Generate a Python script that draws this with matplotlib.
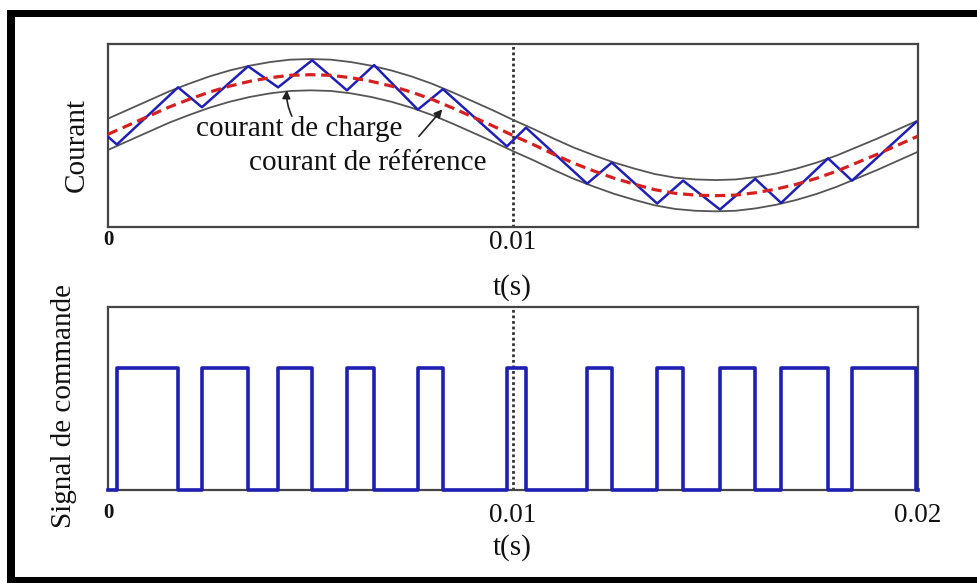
"""
Commande par hysteresis : courant de charge / reference et signal de commande.
"""
import matplotlib; matplotlib.use("Agg"); import matplotlib.pyplot as plt
from matplotlib.patches import Rectangle
import numpy as np

# --- donnees ---
ref_t = [0.0000, 0.0005, 0.0010, 0.0015, 0.0020, 0.0025, 0.0030, 0.0035, 0.0040, 0.0045,
         0.0050, 0.0055, 0.0060, 0.0065, 0.0070, 0.0075, 0.0080, 0.0085, 0.0090, 0.0095,
         0.0100, 0.0105, 0.0110, 0.0115, 0.0120, 0.0125, 0.0130, 0.0135, 0.0140, 0.0145,
         0.0150, 0.0155, 0.0160, 0.0165, 0.0170, 0.0175, 0.0180, 0.0185, 0.0190, 0.0195, 0.0200]
ref_i = [0.02, 0.17, 0.32, 0.47, 0.60, 0.72, 0.82, 0.90, 0.96, 1.00,
         1.01, 1.00, 0.96, 0.90, 0.82, 0.72, 0.60, 0.46, 0.31, 0.16,
         0.00, -0.15, -0.31, -0.46, -0.59, -0.71, -0.81, -0.90, -0.96, -0.99,
         -1.00, -0.99, -0.95, -0.89, -0.81, -0.71, -0.59, -0.45, -0.31, -0.16, -0.01]
band = 0.26   # demi-largeur de la bande d'hysteresis

cur_t = [0, 0.00022, 0.00173, 0.00232, 0.00346, 0.00420, 0.00504, 0.00590, 0.00657, 0.00765,
         0.00827, 0.00985, 0.01032, 0.01183, 0.01244, 0.01356, 0.01420, 0.01511, 0.01598,
         0.01662, 0.01778, 0.01837, 0.01995]
cur_i = [-0.02, -0.15, 0.80, 0.47, 1.15, 0.80, 1.25, 0.75, 1.17, 0.43,
         0.77, -0.18, 0.13, -0.80, -0.45, -1.13, -0.75, -1.23, -0.72,
         -1.12, -0.38, -0.75, 0.22]

rise_t = [0.00022, 0.00232, 0.00420, 0.00590, 0.00765, 0.00985, 0.01183, 0.01356, 0.01511, 0.01662, 0.01837]
fall_t = [0.00173, 0.00346, 0.00504, 0.00657, 0.00827, 0.01032, 0.01244, 0.01420, 0.01598, 0.01778, 0.01995]

top_ticks = [0, 0.01]; top_ticklabels = ["0", "0.01"]
bot_ticks = [0, 0.01, 0.02]; bot_ticklabels = ["0", "0.01", "0.02"]

W, H = 978, 583
def fx(x): return x / W
def fy(y): return 1 - y / H

plt.rcParams["font.family"] = ["Liberation Serif", "DejaVu Serif"]
TXT = "#111111"; FRAME = "#454545"; BLUE = "#1f1fb4"; RED = "#d42020"

fig = plt.figure(figsize=(W / 100, H / 100), dpi=100)
ax1 = fig.add_axes([fx(108), fy(227), fx(918) - fx(108), fy(44) - fy(227)])
ax2 = fig.add_axes([fx(108), fy(490), fx(918) - fx(108), fy(307) - fy(490)])

for ax in (ax1, ax2):
    for s in ax.spines.values():
        s.set_color(FRAME); s.set_linewidth(1.6)
    ax.set_yticks([])
    ax.set_xlim(0, 0.02)
    ax.tick_params(axis="x", length=0, colors=TXT, labelsize=19.5)
    ax.axvline(0.01, color="#333333", lw=2, ls=(0, (1, 1)), zorder=1)

# --- courant ---
rt = np.array(ref_t); ri = np.array(ref_i)
ax1.plot(rt, ri + band, color="#555555", lw=1.3, zorder=2)
ax1.plot(rt, ri - band, color="#555555", lw=1.3, zorder=2)
ax1.plot(cur_t, cur_i, color=BLUE, lw=1.8, zorder=3)
ax1.plot(rt, ri, color=RED, lw=2.3, ls=(0, (3.2, 1.8)), zorder=4)
ax1.set_ylim(-1.52, 1.52)
ax1.set_xticks(top_ticks); ax1.set_xticklabels(top_ticklabels)
ax1.tick_params(axis="x", pad=2)

ax1.annotate("", xy=(0.00442, 0.80), xytext=(0.00457, 0.28),
             arrowprops=dict(arrowstyle="-|>", color="#222222", lw=1.2, mutation_scale=12,
                             connectionstyle="arc3,rad=-0.15"))
ax1.annotate("", xy=(0.00830, 0.47), xytext=(0.00763, -0.05),
             arrowprops=dict(arrowstyle="-|>", color="#222222", lw=1.2, mutation_scale=12))
ax1.text(0.00472, 0.10, "courant de charge", ha="center", va="center", fontsize=21, color=TXT, zorder=5)
ax1.text(0.00642, -0.45, "courant de référence", ha="center", va="center", fontsize=21, color=TXT, zorder=5)

# --- signal de commande ---
sig_t = [0.0]; sig_v = [0]
for r, f in zip(rise_t, fall_t):
    sig_t += [r, r, f, f]; sig_v += [0, 1, 1, 0]
sig_t.append(0.02); sig_v.append(0)
ax2.plot(sig_t, sig_v, color=BLUE, lw=2.6, solid_joinstyle="round", clip_on=False, zorder=3)
ax2.set_ylim(0, 1.5)
ax2.set_xticks(bot_ticks); ax2.set_xticklabels(bot_ticklabels)
ax2.tick_params(axis="x", pad=9)

for ax in (ax1, ax2):
    lab0 = ax.get_xticklabels()[0]
    lab0.set_fontsize(15); lab0.set_fontweight("bold")

# --- titres d'axes ---
fig.text(fx(77), fy(145), "Courant", rotation=90, ha="center", va="center", fontsize=21, color=TXT)
fig.text(fx(64), fy(406), "Signal de commande", rotation=90, ha="center", va="center", fontsize=21, color=TXT)
fig.text(fx(512), fy(288), "t(s)", ha="center", va="center", fontsize=21, color=TXT)
fig.text(fx(512), fy(548), "t(s)", ha="center", va="center", fontsize=21, color=TXT)

# --- cadre noir ---
for x0, y0, x1, y1 in [(7, 10, 15, 583), (7, 10, 978, 17), (7, 577, 978, 583)]:
    fig.add_artist(Rectangle((fx(x0), fy(y1)), fx(x1) - fx(x0), fy(y0) - fy(y1),
                             transform=fig.transFigure, color="black", lw=0))

fig.savefig("out.png", dpi=100)
plt.close(fig)
